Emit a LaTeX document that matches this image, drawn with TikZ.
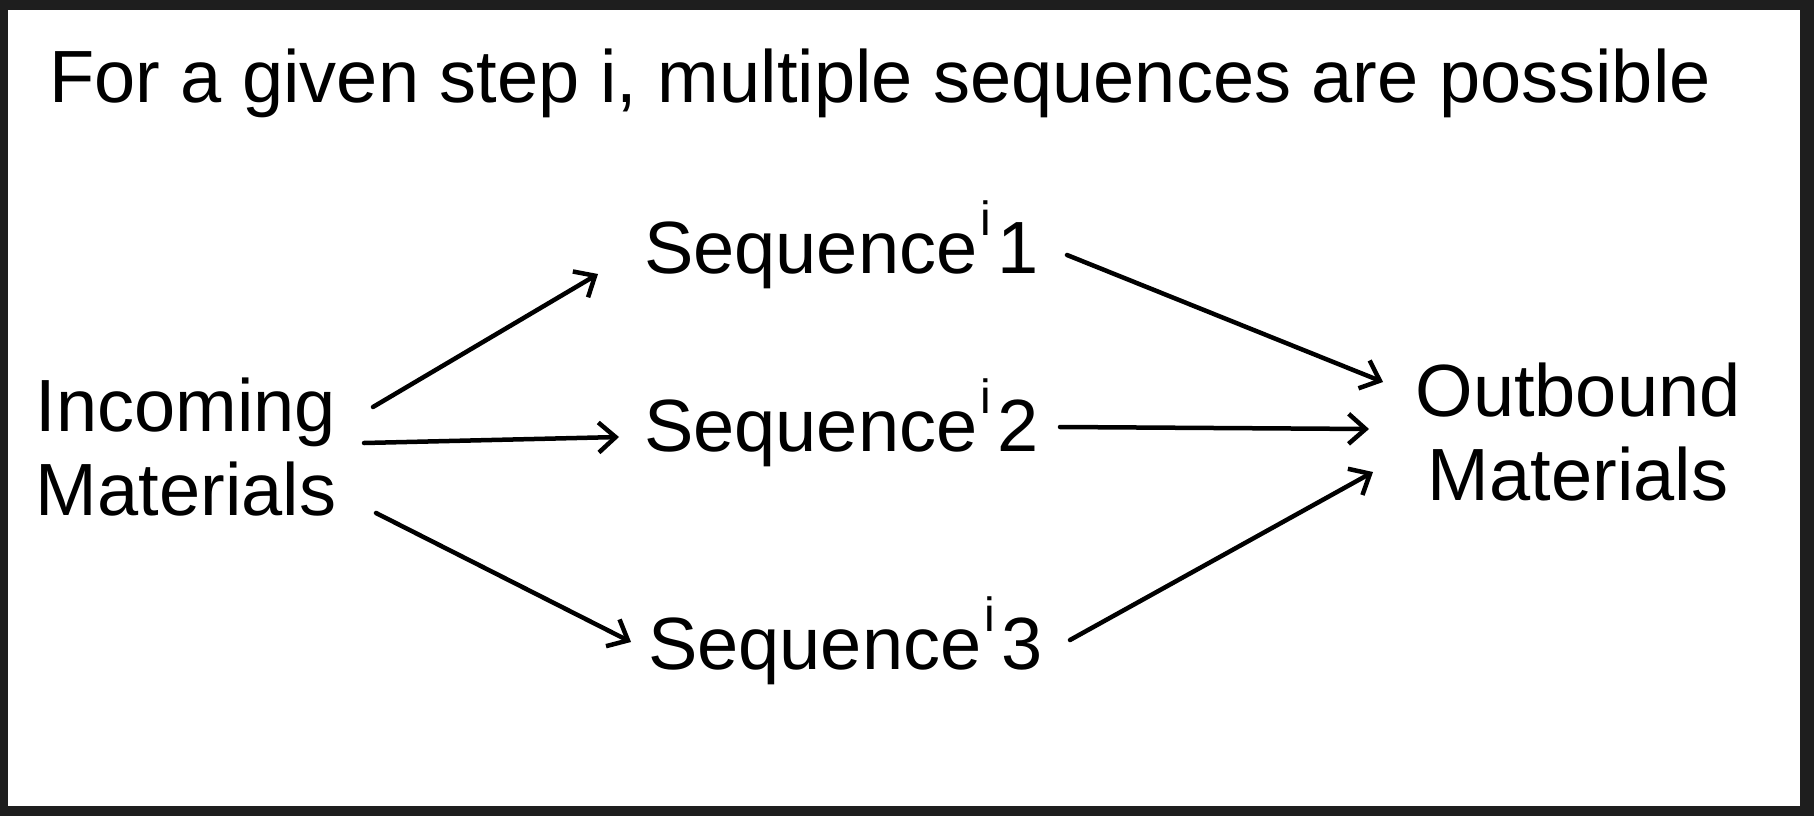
\documentclass[tikz,border=0pt]{standalone}
\usepackage{fontspec}
\setmainfont{Liberation Sans}
\usetikzlibrary{arrows.meta}
\definecolor{frame}{HTML}{1E1E1E}
\newcommand{\supi}{\kern3pt\raisebox{38pt}{\fontsize{48}{48}\selectfont i}\kern6pt}
\tikzset{
  lbl/.style={inner sep=0pt, font=\fontsize{74}{84}\selectfont, text=black},
  conn/.style={line width=4.5pt, -{Straight Barb[length=17pt,width=30pt]}, line cap=round, line join=round}
}
\begin{document}
\begin{tikzpicture}[x=1pt,y=-1pt]
\useasboundingbox (0,0) rectangle (1814,816);
\fill[frame] (0,0) rectangle (1814,816);
\fill[white] (8,10) rectangle (1800,806);
\node[lbl, anchor=base west] (title) at (49,102) {For a given step i, multiple sequences are possible};
\node[lbl, align=center, anchor=base] (in) at (186,515) {Incoming\\Materials};
\node[lbl, anchor=base west] (s1) at (644,273) {Sequence\supi1};
\node[lbl, anchor=base west] (s2) at (644,451) {Sequence\supi2};
\node[lbl, anchor=base west] (s3) at (648,669) {Sequence\supi3};
\node[lbl, align=center, anchor=base] (out) at (1578,500) {Outbound\\Materials};
\draw[conn] ([shift={(187,-108)}]in.base) -- ([shift={(-46,1)}]s1.base west);
\draw[conn] ([shift={(178,-72)}]in.base) -- ([shift={(-25,-14)}]s2.base west);
\draw[conn] ([shift={(190,-2)}]in.base) -- ([shift={(-17,-27)}]s3.base west);
\draw[conn] ([shift={(423,-18)}]s1.base west) -- ([shift={(-195,-118)}]out.base);
\draw[conn] ([shift={(416,-24)}]s2.base west) -- ([shift={(-209,-71)}]out.base);
\draw[conn] ([shift={(422,-29)}]s3.base west) -- ([shift={(-205,-28)}]out.base);
\end{tikzpicture}
\end{document}
